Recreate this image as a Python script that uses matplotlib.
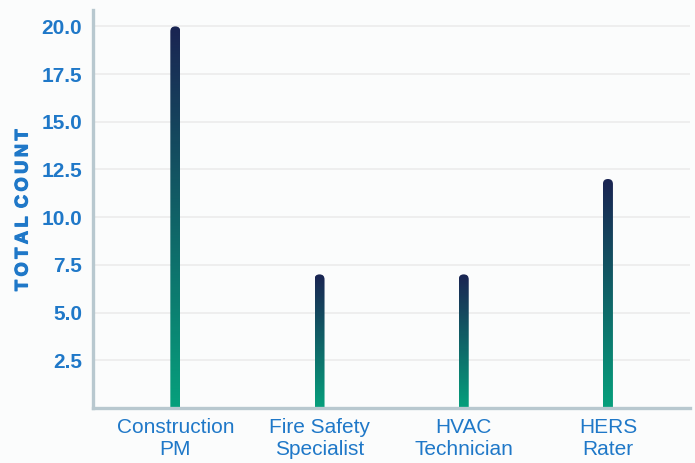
import matplotlib
matplotlib.use("Agg")
import matplotlib.pyplot as plt
import matplotlib.patheffects as pe
import numpy as np
from matplotlib.colors import LinearSegmentedColormap
from matplotlib.patches import FancyBboxPatch

# === Dati
ruoli = ["Construction\nPM", "Fire Safety\nSpecialist", "HVAC\nTechnician", "HERS\nRater"]
conteggi = [20, 7, 7, 12]
tick_y = [2.5, 5.0, 7.5, 10.0, 12.5, 15.0, 17.5, 20.0]

# === Stile
BLU_TESTO = "#1f78c8"
COL_ASSE = "#b8c8cf"
COL_GRIGLIA = "#ececec"
SFONDO = "#fbfcfc"
sfumatura = LinearSegmentedColormap.from_list("barra", ["#06a07c", "#1a2452"])

plt.rcParams["font.family"] = ["Liberation Sans", "DejaVu Sans"]

fig = plt.figure(figsize=(6.95, 4.63), dpi=100, facecolor=SFONDO)
ax = fig.add_axes([0.134, 0.119, 0.859, 0.859])
ax.set_facecolor(SFONDO)

x_min, x_max = -0.57, len(ruoli) - 1 + 0.57
y_min, y_max = 0, 20.85
ax.set_xlim(x_min, x_max)
ax.set_ylim(y_min, y_max)

# pixel per unita', per avere barre larghe 10 px con la punta arrotondata
larg_px = fig.get_figwidth() * fig.dpi * 0.859
alt_px = fig.get_figheight() * fig.dpi * 0.859
px_x = larg_px / (x_max - x_min)
px_y = alt_px / (y_max - y_min)
w = 10 / px_x
r = 5 / px_x
aspetto = (5 / px_y) / r

gradiente = np.linspace(0, 1, 256).reshape(-1, 1)
for i, v in enumerate(conteggi):
    sagoma = FancyBboxPatch((i - w / 2, -2), w, v + 2,
                            boxstyle=f"round,pad=0,rounding_size={r}",
                            mutation_aspect=aspetto,
                            facecolor="none", edgecolor="none")
    ax.add_patch(sagoma)
    img = ax.imshow(gradiente, cmap=sfumatura, origin="lower", aspect="auto",
                    extent=[i - w / 2, i + w / 2, 0, v], zorder=3)
    img.set_clip_path(sagoma)

ax.set_xlim(x_min, x_max)
ax.set_ylim(y_min, y_max)

ax.set_yticks(tick_y)
ax.set_yticklabels([f"{t:.1f}" for t in tick_y], fontsize=15, fontweight="bold", color=BLU_TESTO)
ax.set_xticks(range(len(ruoli)))
ax.set_xticklabels(ruoli, fontsize=15, color=BLU_TESTO, linespacing=1.2)
ax.tick_params(axis="both", length=0)
ax.tick_params(axis="y", pad=8)
ax.tick_params(axis="x", pad=7)

ax.grid(axis="y", color=COL_GRIGLIA, linewidth=1.2, zorder=0)
ax.set_axisbelow(True)

for lato in ["top", "right"]:
    ax.spines[lato].set_visible(False)
for lato in ["left", "bottom"]:
    ax.spines[lato].set_color(COL_ASSE)
    ax.spines[lato].set_linewidth(2.4)
    ax.spines[lato].set_zorder(5)

etichetta = "\u2009".join("TOTAL") + " \u2009" + "\u2009".join("COUNT")
fig.text(0.033, 0.546, etichetta, rotation=90, ha="center", va="center",
         fontsize=13, fontweight="bold", color=BLU_TESTO,
         path_effects=[pe.withStroke(linewidth=0.9, foreground=BLU_TESTO)])

fig.savefig("out.png", dpi=100, facecolor=SFONDO)
